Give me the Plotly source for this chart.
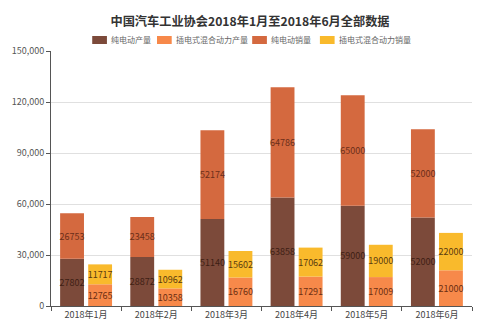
import plotly.graph_objects as go

months = ["2018年1月", "2018年2月", "2018年3月", "2018年4月", "2018年5月", "2018年6月"]
bev_prod = [27802, 28872, 51140, 63858, 59000, 52000]
bev_sales = [26753, 23458, 52174, 64786, 65000, 52000]
phev_prod = [12765, 10358, 16760, 17291, 17009, 21000]
phev_sales = [11717, 10962, 15602, 17062, 19000, 22000]

series_names = ["纯电动产量", "插电式混合动力产量", "纯电动销量", "插电式混合动力销量"]
colors = ["#7C4A3A", "#F7894A", "#D4693F", "#F9BA2C"]
text_colors = ["#3e1e14", "#6b2e12", "#6b2e1a", "#5a3a10"]

font = "Noto Sans CJK SC"

def bar(i, y, base, group):
    return go.Bar(name=series_names[i], x=months, y=y, base=base, offsetgroup=group,
                  marker=dict(color=colors[i], line=dict(width=0)),
                  text=y, textposition="inside", insidetextanchor="middle", textangle=0,
                  textfont=dict(family=font, size=9, color=text_colors[i]),
                  showlegend=False)

fig = go.Figure()
fig.add_trace(bar(0, bev_prod, None, "A"))
fig.add_trace(bar(1, phev_prod, None, "B"))
fig.add_trace(bar(2, bev_sales, bev_prod, "A"))
fig.add_trace(bar(3, phev_sales, phev_prod, "B"))

# custom legend (pixel layout converted to paper coords of plot area)
L, R, T, B = 43, 472, 51, 306
W, H = R - L, B - T
def px(x):
    return (x - L) / W
def py(y):
    return (B - y) / H

legend_x = [85, 151, 248, 317]
ly = 40
for i, x0 in enumerate(legend_x):
    fig.add_shape(type="rect", xref="paper", yref="paper",
                  x0=px(x0), x1=px(x0 + 15), y0=py(ly + 4), y1=py(ly - 4),
                  fillcolor=colors[i], line=dict(width=0))
    fig.add_annotation(xref="paper", yref="paper", x=px(x0 + 17), y=py(ly),
                       xanchor="left", yanchor="middle", showarrow=False,
                       text=series_names[i],
                       font=dict(family=font, size=8, color="#666666"))

fig.update_layout(
    width=500, height=333,
    margin=dict(l=L, r=500 - R, t=T, b=333 - B),
    paper_bgcolor="white", plot_bgcolor="white",
    barmode="group", bargap=0.2, bargroupgap=0.15,
    title=dict(text="<b>中国汽车工业协会2018年1月至2018年6月全部数据</b>",
               x=0.5, xanchor="center", y=1 - 22 / 333, yanchor="middle",
               font=dict(family=font, size=12.2, color="#333333")),
    uniformtext=dict(mode="show", minsize=8),
    font=dict(family=font),
)
fig.update_xaxes(type="category", showline=True, linecolor="#555555", linewidth=1,
                 ticks="outside", tickson="boundaries", ticklen=4, tickcolor="#555555",
                 tickfont=dict(family=font, size=9, color="#444444"), showgrid=False)
fig.update_yaxes(range=[0, 150000], dtick=30000, tickformat=",", showline=True,
                 linecolor="#555555", linewidth=1, ticks="outside", ticklen=4,
                 tickcolor="#555555", gridcolor="#e0e0e0", zeroline=False,
                 tickfont=dict(family=font, size=9, color="#555555"))

fig.write_html("out.html")
